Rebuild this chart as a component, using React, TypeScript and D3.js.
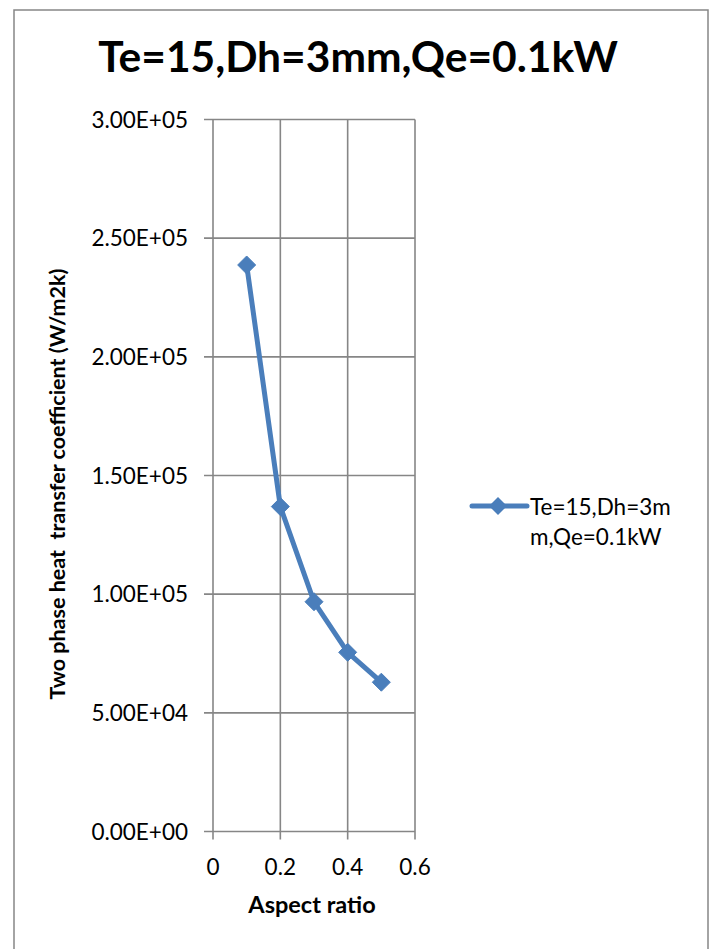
import React from "react";
import * as d3 from "d3";

const aspectRatio = [0.1, 0.2, 0.3, 0.4, 0.5];
const htc = [238700, 136900, 96800, 75500, 62900];
const yTicks = [0, 50000, 100000, 150000, 200000, 250000, 300000];
const xTicks = [0, 0.2, 0.4, 0.6];
const titleText = "Te=15,Dh=3mm,Qe=0.1kW";
const seriesName1 = "Te=15,Dh=3m";
const seriesName2 = "m,Qe=0.1kW";
const xTitle = "Aspect ratio";
const yTitle = "Two phase heat  transfer coefficient (W/m2k)";

const W = 717;
const H = 949;
const FONT = "Lato, 'Open Sans', sans-serif";
const BLUE = "#4A7EBB";
const GRID = "#868686";

export default function App() {
  const x = d3.scaleLinear().domain([0, 0.6]).range([213, 415]);
  const y = d3.scaleLinear().domain([0, 300000]).range([831.5, 119.5]);
  const line = d3
    .line<number>()
    .x((_, i) => x(aspectRatio[i]))
    .y((d) => y(d));
  const diamond = (cx: number, cy: number, r: number) =>
    `M${cx},${cy - r}L${cx + r},${cy}L${cx},${cy + r}L${cx - r},${cy}Z`;
  const fmt = (v: number) => {
    const e = v === 0 ? 0 : Math.floor(Math.log10(v));
    const m = v / Math.pow(10, e);
    return `${m.toFixed(2)}E+${String(e).padStart(2, "0")}`;
  };

  return (
    <svg
      width={W}
      height={H}
      style={{ position: "absolute", left: 0, top: 0, background: "#fff" }}
    >
      <rect x={14} y={10} width={694} height={H} fill="#fff" stroke={GRID} strokeWidth={1.5} />
      <text
        x={358}
        y={72}
        textAnchor="middle"
        fontFamily={FONT}
        fontWeight="bold"
        fontSize={42.5}
        fill="#000"
      >
        {titleText}
      </text>

      {/* grid */}
      {yTicks.map((t) => (
        <line key={"gy" + t} x1={204} x2={x(0.6)} y1={y(t)} y2={y(t)} stroke={GRID} strokeWidth={1.6} />
      ))}
      {xTicks.map((t) => (
        <line key={"gx" + t} x1={x(t)} x2={x(t)} y1={y(300000)} y2={y(0) + 8} stroke={GRID} strokeWidth={1.6} />
      ))}

      {/* y tick labels */}
      {yTicks.map((t) => (
        <text
          key={"ly" + t}
          x={188}
          y={y(t) + 8}
          textAnchor="end"
          fontFamily={FONT}
          fontSize={22.5}
          fill="#000"
        >
          {fmt(t)}
        </text>
      ))}
      {/* x tick labels */}
      {xTicks.map((t) => (
        <text
          key={"lx" + t}
          x={x(t)}
          y={875}
          textAnchor="middle"
          fontFamily={FONT}
          fontSize={22.5}
          fill="#000"
        >
          {t === 0 ? "0" : t.toFixed(1)}
        </text>
      ))}

      <text x={312} y={913} textAnchor="middle" fontFamily={FONT} fontWeight="bold" fontSize={23.5} fill="#000">
        {xTitle}
      </text>
      <text
        transform={`translate(65,${484}) rotate(-90)`}
        textAnchor="middle"
        fontFamily={FONT}
        fontWeight="bold"
        fontSize={21.5}
        fill="#000"
        style={{ whiteSpace: "pre" }}
      >
        {yTitle}
      </text>

      {/* series */}
      <path d={line(htc) || ""} fill="none" stroke={BLUE} strokeWidth={5} strokeLinejoin="round" />
      {htc.map((v, i) => (
        <path key={"m" + i} d={diamond(x(aspectRatio[i]), y(v), 9)} fill={BLUE} stroke={BLUE} strokeWidth={1} />
      ))}

      {/* legend */}
      <line x1={472} x2={527} y1={506} y2={506} stroke={BLUE} strokeWidth={5} strokeLinecap="round" />
      <path d={diamond(498, 506, 9)} fill={BLUE} />
      <text x={530} y={515} fontFamily={FONT} fontSize={22.5} fill="#000">
        {seriesName1}
      </text>
      <text x={530} y={545} fontFamily={FONT} fontSize={22.5} fill="#000">
        {seriesName2}
      </text>
    </svg>
  );
}
